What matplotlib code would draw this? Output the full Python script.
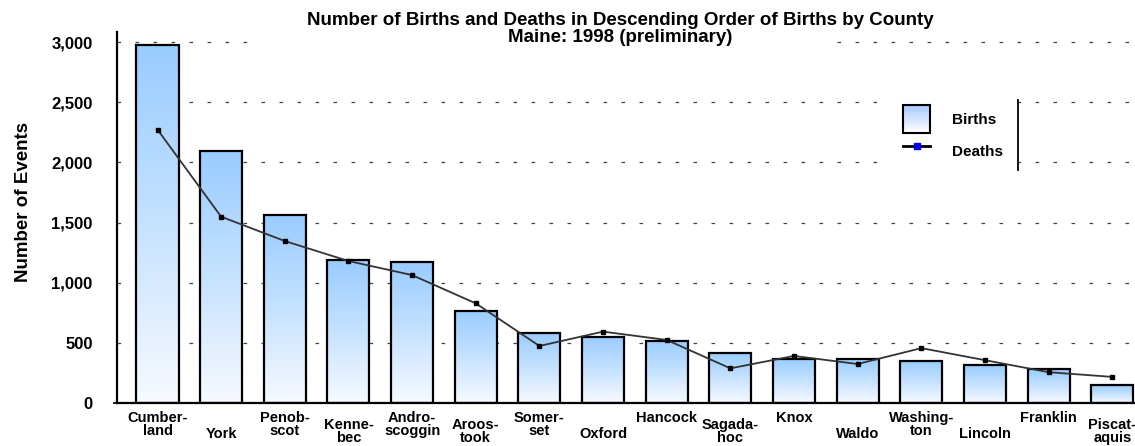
import numpy as np
import matplotlib
matplotlib.use("Agg")
import matplotlib.pyplot as plt
from matplotlib.patches import Rectangle
from matplotlib.lines import Line2D
from matplotlib.colors import LinearSegmentedColormap, to_rgb
from matplotlib.legend_handler import HandlerBase

# ---------------- data ----------------
counties = ["Cumber-\nland", "York", "Penob-\nscot", "Kenne-\nbec", "Andro-\nscoggin",
            "Aroos-\ntook", "Somer-\nset", "Oxford", "Hancock", "Sagada-\nhoc",
            "Knox", "Waldo", "Washing-\nton", "Lincoln", "Franklin", "Piscat-\naquis"]
births = [2971, 2097, 1560, 1187, 1170, 766, 584, 549, 518, 418, 366, 366, 348, 312, 281, 146]
deaths = [2272, 1548, 1346, 1180, 1063, 828, 474, 593, 524, 288, 391, 324, 456, 356, 256, 217]
yticks = [0, 500, 1000, 1500, 2000, 2500, 3000]
ytick_labels = ["0", "500", "1,000", "1,500", "2,000", "2,500", "3,000"]
title = "Number of Births and Deaths in Descending Order of Births by County\nMaine: 1998 (preliminary)"

plt.rcParams['font.family'] = ['Liberation Sans', 'DejaVu Sans']
plt.rcParams['font.weight'] = 'bold'

W, H = 1135, 446
fig = plt.figure(figsize=(W / 100, H / 100), dpi=100)
ax_l, ax_r, ax_t, ax_b = 117, 1135, 32, 403
ax = fig.add_axes([ax_l / W, 1 - ax_b / H, (ax_r - ax_l) / W, (ax_b - ax_t) / H])

top_c = '#99CCFF'
bot_c = '#F7FAFF'
cmap = LinearSegmentedColormap.from_list('bg', [bot_c, '#C6E2FF', top_c])

x = np.arange(len(counties))
bw = 0.66
bars = ax.bar(x, births, width=bw, facecolor='none', edgecolor='black', linewidth=1.6, zorder=3)
grad = np.linspace(0, 1, 256).reshape(-1, 1)
for rect in bars:
    x0 = rect.get_x()
    h = rect.get_height()
    im = ax.imshow(grad, extent=(x0, x0 + rect.get_width(), 0, h), origin='lower',
                   cmap=cmap, aspect='auto', zorder=2, interpolation='bilinear')
    im.set_clip_path(rect)

ax.plot(x, deaths, color='#333333', linewidth=1.3, marker='s', markersize=2.8,
        markerfacecolor='black', markeredgecolor='black', zorder=4)

ymax = (ax_b - ax_t) / ((ax_b - 42) / 3000.0)
ax.set_ylim(0, ymax)
ax.set_xlim((ax_l - 157.5) / 63.65, (ax_r - 157.5) / 63.65)

# axes styling
for s in ['top', 'right']:
    ax.spines[s].set_visible(False)
for s in ['left', 'bottom']:
    ax.spines[s].set_linewidth(1.6)
    ax.spines[s].set_color('black')

ax.set_yticks(yticks)
ax.set_yticklabels(ytick_labels, fontsize=12, fontweight='bold')
ax.tick_params(axis='y', length=3, width=1.2, pad=14.5)
for t in ax.yaxis.get_major_ticks()[1:]:
    t.tick1line.set_visible(False)

ax.set_xticks(x)
ax.set_xticklabels(counties, fontsize=10.5, fontweight='bold', linespacing=0.9)
ax.tick_params(axis='x', length=0)
levels = "ACABABACABACACAB"
pads = {'A': 6.0, 'B': 10.9, 'C': 17.1}
for t, lv in zip(ax.xaxis.get_major_ticks(), levels):
    t.set_pad(pads[lv])

ax.yaxis.grid(True, linestyle=(0, (2.9, 11.5)), color='#444444', linewidth=0.9)
ax.set_axisbelow(True)

ax.set_ylabel("Number of Events", fontsize=13.5, fontweight='bold')
ax.yaxis.set_label_coords((32 - ax_l) / (ax_r - ax_l), (ax_b - 202) / (ax_b - ax_t))

# title with white background covering gridline
ax.add_patch(Rectangle((250 / W, 1 - 47 / H), 580 / W, 47 / H, transform=fig.transFigure,
                       facecolor='white', edgecolor='none', zorder=1.5, clip_on=False))
ax.set_title(title, x=(620 - ax_l) / (ax_r - ax_l), y=1 + 20 / (ax_b - ax_t), pad=0,
             va='top', fontsize=13.5, fontweight='bold', linespacing=1.0)

# legend area
ax.add_patch(Rectangle((880 / W, 1 - 172 / H), 138 / W, 77 / H, transform=fig.transFigure,
                       facecolor='white', edgecolor='none', zorder=1.5, clip_on=False))
ax.add_line(Line2D([1018 / W, 1018 / W], [1 - 100 / H, 1 - 170 / H], transform=fig.transFigure,
                   color='black', linewidth=1.3, clip_on=False, zorder=5))


class GradHandler(HandlerBase):
    def create_artists(self, legend, orig_handle, xdescent, ydescent, width, height, fontsize, trans):
        arts = []
        n = 30
        tc = np.array(to_rgb('#A8C8FF'))
        bc = np.array(to_rgb('#FFFFFF'))
        for k in range(n):
            f = k / (n - 1)
            c = bc + (tc - bc) * f
            arts.append(Rectangle((-xdescent, -ydescent + height * k / n), width, height / n * 1.05,
                                  facecolor=c, edgecolor='none', transform=trans))
        arts.append(Rectangle((-xdescent, -ydescent), width, height, facecolor='none',
                              edgecolor='black', linewidth=1.5, transform=trans))
        return arts


births_handle = Rectangle((0, 0), 1, 1)
deaths_handle = Line2D([], [], color='black', linewidth=2.0, marker='s', markersize=5,
                       markerfacecolor='#0000EE', markeredgecolor='#0000EE')
fs_leg = 11
fs_px = fs_leg * 100 / 72
hh = (28 / fs_px - 0.245) / 0.65
leg = ax.legend([births_handle, deaths_handle], ["Births", "Deaths"],
                handler_map={Rectangle: GradHandler()},
                loc='upper left', bbox_to_anchor=(903 / W, 1 - 105 / H), bbox_transform=fig.transFigure,
                frameon=False, borderpad=0, borderaxespad=0,
                handlelength=27 / fs_px, handleheight=hh,
                handletextpad=22 / fs_px, labelspacing=4 / fs_px, numpoints=1,
                prop={'weight': 'bold', 'size': fs_leg})
leg.set_zorder(6)

fig.savefig("out.png", dpi=100)
